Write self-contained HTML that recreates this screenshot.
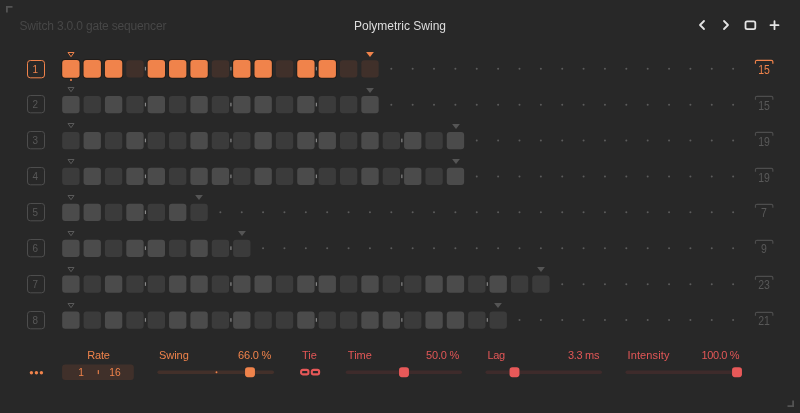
<!DOCTYPE html>
<html><head><meta charset="utf-8"><title>Switch</title>
<style>
html,body{margin:0;padding:0;}
body{width:800px;height:413px;background:#282828;overflow:hidden;position:relative;font-family:"Liberation Sans",sans-serif;}
.a{position:absolute;}
.t{position:absolute;white-space:nowrap;line-height:1;}
.nb{position:absolute;width:18px;height:18.3px;color:#5a5a5a;font-size:11.5px;text-align:center;line-height:18.3px;}
.lt{position:absolute;width:30px;text-align:center;font-size:12.2px;color:#555;line-height:1;transform:scaleX(0.86);}
svg{position:absolute;overflow:visible;}
</style></head><body>

<svg width="20" height="20" style="left:0;top:0" fill="none" stroke="#535353" stroke-width="1.8"><path d="M6.9 12.5 V6.9 H12.5"/></svg>
<svg width="20" height="20" style="left:780px;top:393px" fill="none" stroke="#535353" stroke-width="1.8"><path d="M7.5 13.1 H13.1 V7.5"/></svg>
<div class="t" id="hdr" style="left:19.4px;top:19.75px;font-size:12px;letter-spacing:-0.17px;color:#474747;">Switch 3.0.0 gate sequencer</div>
<div class="t" id="ttl" style="left:354px;top:19.75px;font-size:12px;color:#dedede;">Polymetric Swing</div>
<svg width="100" height="20" style="left:690px;top:15.25px" fill="none" stroke="#e4e4e4" stroke-width="1.8" stroke-linecap="round" stroke-linejoin="round"><path d="M14 6 L10 10 L14 14"/><path d="M34 6 L38 10 L34 14"/><rect x="55.5" y="6.4" width="9.8" height="7.7" rx="1.6"/><path d="M80.5 10.2 H88.5 M84.5 6.2 V14.2"/></svg>
<svg width="20" height="20" style="left:26px;top:58.55px" fill="none" stroke="#f0834b" stroke-width="1"><rect x="1.5" y="1.5" width="17" height="17.3" rx="2.8"/></svg>
<div class="nb" style="left:26.5px;top:59.55px;color:#f0834b"><span style="display:inline-block;transform:scaleX(0.86)">1</span></div>
<svg width="8" height="7" style="left:67.10px;top:50.50px"><path d="M1.0 1.5 H7.0 L4 5.7 Z" fill="none" stroke="#f0834b" stroke-width="1"/></svg>
<svg width="8" height="7" style="left:366.22px;top:50.75px"><path d="M0.1 1.05 H7.9 L4 5.95 Z" fill="#f0834b"/></svg>
<svg width="20" height="6" style="left:754px;top:59.25px" fill="none" stroke="#f0834b" stroke-width="1.2"><path d="M1.45 4.7 V2.8 Q1.45 1.3 2.95 1.3 H17.35 Q18.85 1.3 18.85 2.8 V4.7"/></svg>
<div class="lt" style="left:749px;top:63.85px;color:#f0834b">15</div>
<svg width="20" height="20" style="left:26px;top:94.45px" fill="none" stroke="#4d4d4d" stroke-width="1"><rect x="1.5" y="1.5" width="17" height="17.3" rx="2.8"/></svg>
<div class="nb" style="left:26.5px;top:95.45px;color:#585858"><span style="display:inline-block;transform:scaleX(0.86)">2</span></div>
<svg width="8" height="7" style="left:67.10px;top:86.40px"><path d="M1.0 1.5 H7.0 L4 5.7 Z" fill="none" stroke="#5a5a5a" stroke-width="1"/></svg>
<svg width="8" height="7" style="left:366.22px;top:86.65px"><path d="M0.1 1.05 H7.9 L4 5.95 Z" fill="#555"/></svg>
<svg width="20" height="6" style="left:754px;top:95.15px" fill="none" stroke="#4d4d4d" stroke-width="1.2"><path d="M1.45 4.7 V2.8 Q1.45 1.3 2.95 1.3 H17.35 Q18.85 1.3 18.85 2.8 V4.7"/></svg>
<div class="lt" style="left:749px;top:99.75px;color:#585858">15</div>
<svg width="20" height="20" style="left:26px;top:130.35px" fill="none" stroke="#4d4d4d" stroke-width="1"><rect x="1.5" y="1.5" width="17" height="17.3" rx="2.8"/></svg>
<div class="nb" style="left:26.5px;top:131.35px;color:#585858"><span style="display:inline-block;transform:scaleX(0.86)">3</span></div>
<svg width="8" height="7" style="left:67.10px;top:122.30px"><path d="M1.0 1.5 H7.0 L4 5.7 Z" fill="none" stroke="#5a5a5a" stroke-width="1"/></svg>
<svg width="8" height="7" style="left:451.69px;top:122.55px"><path d="M0.1 1.05 H7.9 L4 5.95 Z" fill="#555"/></svg>
<svg width="20" height="6" style="left:754px;top:131.05px" fill="none" stroke="#4d4d4d" stroke-width="1.2"><path d="M1.45 4.7 V2.8 Q1.45 1.3 2.95 1.3 H17.35 Q18.85 1.3 18.85 2.8 V4.7"/></svg>
<div class="lt" style="left:749px;top:135.65px;color:#585858">19</div>
<svg width="20" height="20" style="left:26px;top:166.25px" fill="none" stroke="#4d4d4d" stroke-width="1"><rect x="1.5" y="1.5" width="17" height="17.3" rx="2.8"/></svg>
<div class="nb" style="left:26.5px;top:167.25px;color:#585858"><span style="display:inline-block;transform:scaleX(0.86)">4</span></div>
<svg width="8" height="7" style="left:67.10px;top:158.20px"><path d="M1.0 1.5 H7.0 L4 5.7 Z" fill="none" stroke="#5a5a5a" stroke-width="1"/></svg>
<svg width="8" height="7" style="left:451.69px;top:158.45px"><path d="M0.1 1.05 H7.9 L4 5.95 Z" fill="#555"/></svg>
<svg width="20" height="6" style="left:754px;top:166.95px" fill="none" stroke="#4d4d4d" stroke-width="1.2"><path d="M1.45 4.7 V2.8 Q1.45 1.3 2.95 1.3 H17.35 Q18.85 1.3 18.85 2.8 V4.7"/></svg>
<div class="lt" style="left:749px;top:171.55px;color:#585858">19</div>
<svg width="20" height="20" style="left:26px;top:202.15px" fill="none" stroke="#4d4d4d" stroke-width="1"><rect x="1.5" y="1.5" width="17" height="17.3" rx="2.8"/></svg>
<div class="nb" style="left:26.5px;top:203.15px;color:#585858"><span style="display:inline-block;transform:scaleX(0.86)">5</span></div>
<svg width="8" height="7" style="left:67.10px;top:194.10px"><path d="M1.0 1.5 H7.0 L4 5.7 Z" fill="none" stroke="#5a5a5a" stroke-width="1"/></svg>
<svg width="8" height="7" style="left:195.30px;top:194.35px"><path d="M0.1 1.05 H7.9 L4 5.95 Z" fill="#555"/></svg>
<svg width="20" height="6" style="left:754px;top:202.85px" fill="none" stroke="#4d4d4d" stroke-width="1.2"><path d="M1.45 4.7 V2.8 Q1.45 1.3 2.95 1.3 H17.35 Q18.85 1.3 18.85 2.8 V4.7"/></svg>
<div class="lt" style="left:749px;top:207.45px;color:#585858">7</div>
<svg width="20" height="20" style="left:26px;top:238.05px" fill="none" stroke="#4d4d4d" stroke-width="1"><rect x="1.5" y="1.5" width="17" height="17.3" rx="2.8"/></svg>
<div class="nb" style="left:26.5px;top:239.05px;color:#585858"><span style="display:inline-block;transform:scaleX(0.86)">6</span></div>
<svg width="8" height="7" style="left:67.10px;top:230.00px"><path d="M1.0 1.5 H7.0 L4 5.7 Z" fill="none" stroke="#5a5a5a" stroke-width="1"/></svg>
<svg width="8" height="7" style="left:238.03px;top:230.25px"><path d="M0.1 1.05 H7.9 L4 5.95 Z" fill="#555"/></svg>
<svg width="20" height="6" style="left:754px;top:238.75px" fill="none" stroke="#4d4d4d" stroke-width="1.2"><path d="M1.45 4.7 V2.8 Q1.45 1.3 2.95 1.3 H17.35 Q18.85 1.3 18.85 2.8 V4.7"/></svg>
<div class="lt" style="left:749px;top:243.35px;color:#585858">9</div>
<svg width="20" height="20" style="left:26px;top:273.95px" fill="none" stroke="#4d4d4d" stroke-width="1"><rect x="1.5" y="1.5" width="17" height="17.3" rx="2.8"/></svg>
<div class="nb" style="left:26.5px;top:274.95px;color:#585858"><span style="display:inline-block;transform:scaleX(0.86)">7</span></div>
<svg width="8" height="7" style="left:67.10px;top:265.90px"><path d="M1.0 1.5 H7.0 L4 5.7 Z" fill="none" stroke="#5a5a5a" stroke-width="1"/></svg>
<svg width="8" height="7" style="left:537.15px;top:266.15px"><path d="M0.1 1.05 H7.9 L4 5.95 Z" fill="#555"/></svg>
<svg width="20" height="6" style="left:754px;top:274.65px" fill="none" stroke="#4d4d4d" stroke-width="1.2"><path d="M1.45 4.7 V2.8 Q1.45 1.3 2.95 1.3 H17.35 Q18.85 1.3 18.85 2.8 V4.7"/></svg>
<div class="lt" style="left:749px;top:279.25px;color:#585858">23</div>
<svg width="20" height="20" style="left:26px;top:309.85px" fill="none" stroke="#4d4d4d" stroke-width="1"><rect x="1.5" y="1.5" width="17" height="17.3" rx="2.8"/></svg>
<div class="nb" style="left:26.5px;top:310.85px;color:#585858"><span style="display:inline-block;transform:scaleX(0.86)">8</span></div>
<svg width="8" height="7" style="left:67.10px;top:301.80px"><path d="M1.0 1.5 H7.0 L4 5.7 Z" fill="none" stroke="#5a5a5a" stroke-width="1"/></svg>
<svg width="8" height="7" style="left:494.42px;top:302.05px"><path d="M0.1 1.05 H7.9 L4 5.95 Z" fill="#555"/></svg>
<svg width="20" height="6" style="left:754px;top:310.55px" fill="none" stroke="#4d4d4d" stroke-width="1.2"><path d="M1.45 4.7 V2.8 Q1.45 1.3 2.95 1.3 H17.35 Q18.85 1.3 18.85 2.8 V4.7"/></svg>
<div class="lt" style="left:749px;top:315.15px;color:#585858">21</div>
<svg width="800" height="413" style="left:0;top:0">
<g><rect x="62.20" y="60.00" width="17.35" height="17.8" rx="3" fill="#f0834b" stroke="rgba(24,10,2,0.38)" stroke-width="2" paint-order="stroke"/>
<rect x="83.57" y="60.00" width="17.35" height="17.8" rx="3" fill="#f0834b" stroke="rgba(24,10,2,0.38)" stroke-width="2" paint-order="stroke"/>
<rect x="104.93" y="60.00" width="17.35" height="17.8" rx="3" fill="#f0834b" stroke="rgba(24,10,2,0.38)" stroke-width="2" paint-order="stroke"/>
<rect x="126.30" y="60.15" width="17.35" height="17.25" rx="3" fill="#40302a"/>
<rect x="147.66" y="60.00" width="17.35" height="17.8" rx="3" fill="#f0834b" stroke="rgba(24,10,2,0.38)" stroke-width="2" paint-order="stroke"/>
<rect x="169.03" y="60.00" width="17.35" height="17.8" rx="3" fill="#f0834b" stroke="rgba(24,10,2,0.38)" stroke-width="2" paint-order="stroke"/>
<rect x="190.40" y="60.00" width="17.35" height="17.8" rx="3" fill="#f0834b" stroke="rgba(24,10,2,0.38)" stroke-width="2" paint-order="stroke"/>
<rect x="211.76" y="60.15" width="17.35" height="17.25" rx="3" fill="#40302a"/>
<rect x="233.13" y="60.00" width="17.35" height="17.8" rx="3" fill="#f0834b" stroke="rgba(24,10,2,0.38)" stroke-width="2" paint-order="stroke"/>
<rect x="254.49" y="60.00" width="17.35" height="17.8" rx="3" fill="#f0834b" stroke="rgba(24,10,2,0.38)" stroke-width="2" paint-order="stroke"/>
<rect x="275.86" y="60.15" width="17.35" height="17.25" rx="3" fill="#40302a"/>
<rect x="297.23" y="60.00" width="17.35" height="17.8" rx="3" fill="#f0834b" stroke="rgba(24,10,2,0.38)" stroke-width="2" paint-order="stroke"/>
<rect x="318.59" y="60.00" width="17.35" height="17.8" rx="3" fill="#f0834b" stroke="rgba(24,10,2,0.38)" stroke-width="2" paint-order="stroke"/>
<rect x="339.96" y="60.15" width="17.35" height="17.25" rx="3" fill="#40302a"/>
<rect x="361.32" y="60.15" width="17.35" height="17.25" rx="3" fill="#40302a"/>
<rect x="62.20" y="96.05" width="17.35" height="17.25" rx="3" fill="#4b4b4b"/>
<rect x="83.57" y="96.05" width="17.35" height="17.25" rx="3" fill="#3b3b3b"/>
<rect x="104.93" y="96.05" width="17.35" height="17.25" rx="3" fill="#4b4b4b"/>
<rect x="126.30" y="96.05" width="17.35" height="17.25" rx="3" fill="#3b3b3b"/>
<rect x="147.66" y="96.05" width="17.35" height="17.25" rx="3" fill="#4b4b4b"/>
<rect x="169.03" y="96.05" width="17.35" height="17.25" rx="3" fill="#3b3b3b"/>
<rect x="190.40" y="96.05" width="17.35" height="17.25" rx="3" fill="#4b4b4b"/>
<rect x="211.76" y="96.05" width="17.35" height="17.25" rx="3" fill="#3b3b3b"/>
<rect x="233.13" y="96.05" width="17.35" height="17.25" rx="3" fill="#4b4b4b"/>
<rect x="254.49" y="96.05" width="17.35" height="17.25" rx="3" fill="#4b4b4b"/>
<rect x="275.86" y="96.05" width="17.35" height="17.25" rx="3" fill="#3b3b3b"/>
<rect x="297.23" y="96.05" width="17.35" height="17.25" rx="3" fill="#4b4b4b"/>
<rect x="318.59" y="96.05" width="17.35" height="17.25" rx="3" fill="#3b3b3b"/>
<rect x="339.96" y="96.05" width="17.35" height="17.25" rx="3" fill="#3b3b3b"/>
<rect x="361.32" y="96.05" width="17.35" height="17.25" rx="3" fill="#4b4b4b"/>
<rect x="62.20" y="131.95" width="17.35" height="17.25" rx="3" fill="#3b3b3b"/>
<rect x="83.57" y="131.95" width="17.35" height="17.25" rx="3" fill="#4b4b4b"/>
<rect x="104.93" y="131.95" width="17.35" height="17.25" rx="3" fill="#3b3b3b"/>
<rect x="126.30" y="131.95" width="17.35" height="17.25" rx="3" fill="#4b4b4b"/>
<rect x="147.66" y="131.95" width="17.35" height="17.25" rx="3" fill="#3b3b3b"/>
<rect x="169.03" y="131.95" width="17.35" height="17.25" rx="3" fill="#3b3b3b"/>
<rect x="190.40" y="131.95" width="17.35" height="17.25" rx="3" fill="#4b4b4b"/>
<rect x="211.76" y="131.95" width="17.35" height="17.25" rx="3" fill="#3b3b3b"/>
<rect x="233.13" y="131.95" width="17.35" height="17.25" rx="3" fill="#3b3b3b"/>
<rect x="254.49" y="131.95" width="17.35" height="17.25" rx="3" fill="#4b4b4b"/>
<rect x="275.86" y="131.95" width="17.35" height="17.25" rx="3" fill="#3b3b3b"/>
<rect x="297.23" y="131.95" width="17.35" height="17.25" rx="3" fill="#4b4b4b"/>
<rect x="318.59" y="131.95" width="17.35" height="17.25" rx="3" fill="#4b4b4b"/>
<rect x="339.96" y="131.95" width="17.35" height="17.25" rx="3" fill="#3b3b3b"/>
<rect x="361.32" y="131.95" width="17.35" height="17.25" rx="3" fill="#4b4b4b"/>
<rect x="382.69" y="131.95" width="17.35" height="17.25" rx="3" fill="#3b3b3b"/>
<rect x="404.06" y="131.95" width="17.35" height="17.25" rx="3" fill="#4b4b4b"/>
<rect x="425.42" y="131.95" width="17.35" height="17.25" rx="3" fill="#3b3b3b"/>
<rect x="446.79" y="131.95" width="17.35" height="17.25" rx="3" fill="#4b4b4b"/>
<rect x="62.20" y="167.85" width="17.35" height="17.25" rx="3" fill="#3b3b3b"/>
<rect x="83.57" y="167.85" width="17.35" height="17.25" rx="3" fill="#4b4b4b"/>
<rect x="104.93" y="167.85" width="17.35" height="17.25" rx="3" fill="#3b3b3b"/>
<rect x="126.30" y="167.85" width="17.35" height="17.25" rx="3" fill="#4b4b4b"/>
<rect x="147.66" y="167.85" width="17.35" height="17.25" rx="3" fill="#4b4b4b"/>
<rect x="169.03" y="167.85" width="17.35" height="17.25" rx="3" fill="#3b3b3b"/>
<rect x="190.40" y="167.85" width="17.35" height="17.25" rx="3" fill="#4b4b4b"/>
<rect x="211.76" y="167.85" width="17.35" height="17.25" rx="3" fill="#4b4b4b"/>
<rect x="233.13" y="167.85" width="17.35" height="17.25" rx="3" fill="#3b3b3b"/>
<rect x="254.49" y="167.85" width="17.35" height="17.25" rx="3" fill="#4b4b4b"/>
<rect x="275.86" y="167.85" width="17.35" height="17.25" rx="3" fill="#3b3b3b"/>
<rect x="297.23" y="167.85" width="17.35" height="17.25" rx="3" fill="#4b4b4b"/>
<rect x="318.59" y="167.85" width="17.35" height="17.25" rx="3" fill="#3b3b3b"/>
<rect x="339.96" y="167.85" width="17.35" height="17.25" rx="3" fill="#3b3b3b"/>
<rect x="361.32" y="167.85" width="17.35" height="17.25" rx="3" fill="#4b4b4b"/>
<rect x="382.69" y="167.85" width="17.35" height="17.25" rx="3" fill="#3b3b3b"/>
<rect x="404.06" y="167.85" width="17.35" height="17.25" rx="3" fill="#4b4b4b"/>
<rect x="425.42" y="167.85" width="17.35" height="17.25" rx="3" fill="#3b3b3b"/>
<rect x="446.79" y="167.85" width="17.35" height="17.25" rx="3" fill="#4b4b4b"/>
<rect x="62.20" y="203.75" width="17.35" height="17.25" rx="3" fill="#4b4b4b"/>
<rect x="83.57" y="203.75" width="17.35" height="17.25" rx="3" fill="#4b4b4b"/>
<rect x="104.93" y="203.75" width="17.35" height="17.25" rx="3" fill="#3b3b3b"/>
<rect x="126.30" y="203.75" width="17.35" height="17.25" rx="3" fill="#4b4b4b"/>
<rect x="147.66" y="203.75" width="17.35" height="17.25" rx="3" fill="#3b3b3b"/>
<rect x="169.03" y="203.75" width="17.35" height="17.25" rx="3" fill="#4b4b4b"/>
<rect x="190.40" y="203.75" width="17.35" height="17.25" rx="3" fill="#3b3b3b"/>
<rect x="62.20" y="239.65" width="17.35" height="17.25" rx="3" fill="#4b4b4b"/>
<rect x="83.57" y="239.65" width="17.35" height="17.25" rx="3" fill="#4b4b4b"/>
<rect x="104.93" y="239.65" width="17.35" height="17.25" rx="3" fill="#3b3b3b"/>
<rect x="126.30" y="239.65" width="17.35" height="17.25" rx="3" fill="#4b4b4b"/>
<rect x="147.66" y="239.65" width="17.35" height="17.25" rx="3" fill="#4b4b4b"/>
<rect x="169.03" y="239.65" width="17.35" height="17.25" rx="3" fill="#3b3b3b"/>
<rect x="190.40" y="239.65" width="17.35" height="17.25" rx="3" fill="#4b4b4b"/>
<rect x="211.76" y="239.65" width="17.35" height="17.25" rx="3" fill="#3b3b3b"/>
<rect x="233.13" y="239.65" width="17.35" height="17.25" rx="3" fill="#3b3b3b"/>
<rect x="62.20" y="275.55" width="17.35" height="17.25" rx="3" fill="#4b4b4b"/>
<rect x="83.57" y="275.55" width="17.35" height="17.25" rx="3" fill="#3b3b3b"/>
<rect x="104.93" y="275.55" width="17.35" height="17.25" rx="3" fill="#4b4b4b"/>
<rect x="126.30" y="275.55" width="17.35" height="17.25" rx="3" fill="#3b3b3b"/>
<rect x="147.66" y="275.55" width="17.35" height="17.25" rx="3" fill="#3b3b3b"/>
<rect x="169.03" y="275.55" width="17.35" height="17.25" rx="3" fill="#4b4b4b"/>
<rect x="190.40" y="275.55" width="17.35" height="17.25" rx="3" fill="#4b4b4b"/>
<rect x="211.76" y="275.55" width="17.35" height="17.25" rx="3" fill="#3b3b3b"/>
<rect x="233.13" y="275.55" width="17.35" height="17.25" rx="3" fill="#4b4b4b"/>
<rect x="254.49" y="275.55" width="17.35" height="17.25" rx="3" fill="#4b4b4b"/>
<rect x="275.86" y="275.55" width="17.35" height="17.25" rx="3" fill="#3b3b3b"/>
<rect x="297.23" y="275.55" width="17.35" height="17.25" rx="3" fill="#4b4b4b"/>
<rect x="318.59" y="275.55" width="17.35" height="17.25" rx="3" fill="#4b4b4b"/>
<rect x="339.96" y="275.55" width="17.35" height="17.25" rx="3" fill="#3b3b3b"/>
<rect x="361.32" y="275.55" width="17.35" height="17.25" rx="3" fill="#4b4b4b"/>
<rect x="382.69" y="275.55" width="17.35" height="17.25" rx="3" fill="#3b3b3b"/>
<rect x="404.06" y="275.55" width="17.35" height="17.25" rx="3" fill="#3b3b3b"/>
<rect x="425.42" y="275.55" width="17.35" height="17.25" rx="3" fill="#4b4b4b"/>
<rect x="446.79" y="275.55" width="17.35" height="17.25" rx="3" fill="#4b4b4b"/>
<rect x="468.15" y="275.55" width="17.35" height="17.25" rx="3" fill="#3b3b3b"/>
<rect x="489.52" y="275.55" width="17.35" height="17.25" rx="3" fill="#4b4b4b"/>
<rect x="510.89" y="275.55" width="17.35" height="17.25" rx="3" fill="#3b3b3b"/>
<rect x="532.25" y="275.55" width="17.35" height="17.25" rx="3" fill="#3b3b3b"/>
<rect x="62.20" y="311.45" width="17.35" height="17.25" rx="3" fill="#4b4b4b"/>
<rect x="83.57" y="311.45" width="17.35" height="17.25" rx="3" fill="#3b3b3b"/>
<rect x="104.93" y="311.45" width="17.35" height="17.25" rx="3" fill="#4b4b4b"/>
<rect x="126.30" y="311.45" width="17.35" height="17.25" rx="3" fill="#3b3b3b"/>
<rect x="147.66" y="311.45" width="17.35" height="17.25" rx="3" fill="#3b3b3b"/>
<rect x="169.03" y="311.45" width="17.35" height="17.25" rx="3" fill="#4b4b4b"/>
<rect x="190.40" y="311.45" width="17.35" height="17.25" rx="3" fill="#4b4b4b"/>
<rect x="211.76" y="311.45" width="17.35" height="17.25" rx="3" fill="#3b3b3b"/>
<rect x="233.13" y="311.45" width="17.35" height="17.25" rx="3" fill="#4b4b4b"/>
<rect x="254.49" y="311.45" width="17.35" height="17.25" rx="3" fill="#3b3b3b"/>
<rect x="275.86" y="311.45" width="17.35" height="17.25" rx="3" fill="#3b3b3b"/>
<rect x="297.23" y="311.45" width="17.35" height="17.25" rx="3" fill="#4b4b4b"/>
<rect x="318.59" y="311.45" width="17.35" height="17.25" rx="3" fill="#3b3b3b"/>
<rect x="339.96" y="311.45" width="17.35" height="17.25" rx="3" fill="#3b3b3b"/>
<rect x="361.32" y="311.45" width="17.35" height="17.25" rx="3" fill="#4b4b4b"/>
<rect x="382.69" y="311.45" width="17.35" height="17.25" rx="3" fill="#4b4b4b"/>
<rect x="404.06" y="311.45" width="17.35" height="17.25" rx="3" fill="#3b3b3b"/>
<rect x="425.42" y="311.45" width="17.35" height="17.25" rx="3" fill="#4b4b4b"/>
<rect x="446.79" y="311.45" width="17.35" height="17.25" rx="3" fill="#4b4b4b"/>
<rect x="468.15" y="311.45" width="17.35" height="17.25" rx="3" fill="#3b3b3b"/>
<rect x="489.52" y="311.45" width="17.35" height="17.25" rx="3" fill="#3b3b3b"/></g>
<g fill="#5c5c5c"><circle cx="391.29" cy="68.75" r="1.0"/><circle cx="412.66" cy="68.75" r="1.0"/><circle cx="434.02" cy="68.75" r="1.0"/><circle cx="455.39" cy="68.75" r="1.0"/><circle cx="476.75" cy="68.75" r="1.0"/><circle cx="498.12" cy="68.75" r="1.0"/><circle cx="519.49" cy="68.75" r="1.0"/><circle cx="540.85" cy="68.75" r="1.0"/><circle cx="562.22" cy="68.75" r="1.0"/><circle cx="583.58" cy="68.75" r="1.0"/><circle cx="604.95" cy="68.75" r="1.0"/><circle cx="626.32" cy="68.75" r="1.0"/><circle cx="647.68" cy="68.75" r="1.0"/><circle cx="669.05" cy="68.75" r="1.0"/><circle cx="690.41" cy="68.75" r="1.0"/><circle cx="711.78" cy="68.75" r="1.0"/><circle cx="733.15" cy="68.75" r="1.0"/><circle cx="391.29" cy="104.65" r="1.0"/><circle cx="412.66" cy="104.65" r="1.0"/><circle cx="434.02" cy="104.65" r="1.0"/><circle cx="455.39" cy="104.65" r="1.0"/><circle cx="476.75" cy="104.65" r="1.0"/><circle cx="498.12" cy="104.65" r="1.0"/><circle cx="519.49" cy="104.65" r="1.0"/><circle cx="540.85" cy="104.65" r="1.0"/><circle cx="562.22" cy="104.65" r="1.0"/><circle cx="583.58" cy="104.65" r="1.0"/><circle cx="604.95" cy="104.65" r="1.0"/><circle cx="626.32" cy="104.65" r="1.0"/><circle cx="647.68" cy="104.65" r="1.0"/><circle cx="669.05" cy="104.65" r="1.0"/><circle cx="690.41" cy="104.65" r="1.0"/><circle cx="711.78" cy="104.65" r="1.0"/><circle cx="733.15" cy="104.65" r="1.0"/><circle cx="476.75" cy="140.55" r="1.0"/><circle cx="498.12" cy="140.55" r="1.0"/><circle cx="519.49" cy="140.55" r="1.0"/><circle cx="540.85" cy="140.55" r="1.0"/><circle cx="562.22" cy="140.55" r="1.0"/><circle cx="583.58" cy="140.55" r="1.0"/><circle cx="604.95" cy="140.55" r="1.0"/><circle cx="626.32" cy="140.55" r="1.0"/><circle cx="647.68" cy="140.55" r="1.0"/><circle cx="669.05" cy="140.55" r="1.0"/><circle cx="690.41" cy="140.55" r="1.0"/><circle cx="711.78" cy="140.55" r="1.0"/><circle cx="733.15" cy="140.55" r="1.0"/><circle cx="476.75" cy="176.45" r="1.0"/><circle cx="498.12" cy="176.45" r="1.0"/><circle cx="519.49" cy="176.45" r="1.0"/><circle cx="540.85" cy="176.45" r="1.0"/><circle cx="562.22" cy="176.45" r="1.0"/><circle cx="583.58" cy="176.45" r="1.0"/><circle cx="604.95" cy="176.45" r="1.0"/><circle cx="626.32" cy="176.45" r="1.0"/><circle cx="647.68" cy="176.45" r="1.0"/><circle cx="669.05" cy="176.45" r="1.0"/><circle cx="690.41" cy="176.45" r="1.0"/><circle cx="711.78" cy="176.45" r="1.0"/><circle cx="733.15" cy="176.45" r="1.0"/><circle cx="220.36" cy="212.35" r="1.0"/><circle cx="241.73" cy="212.35" r="1.0"/><circle cx="263.09" cy="212.35" r="1.0"/><circle cx="284.46" cy="212.35" r="1.0"/><circle cx="305.83" cy="212.35" r="1.0"/><circle cx="327.19" cy="212.35" r="1.0"/><circle cx="348.56" cy="212.35" r="1.0"/><circle cx="369.92" cy="212.35" r="1.0"/><circle cx="391.29" cy="212.35" r="1.0"/><circle cx="412.66" cy="212.35" r="1.0"/><circle cx="434.02" cy="212.35" r="1.0"/><circle cx="455.39" cy="212.35" r="1.0"/><circle cx="476.75" cy="212.35" r="1.0"/><circle cx="498.12" cy="212.35" r="1.0"/><circle cx="519.49" cy="212.35" r="1.0"/><circle cx="540.85" cy="212.35" r="1.0"/><circle cx="562.22" cy="212.35" r="1.0"/><circle cx="583.58" cy="212.35" r="1.0"/><circle cx="604.95" cy="212.35" r="1.0"/><circle cx="626.32" cy="212.35" r="1.0"/><circle cx="647.68" cy="212.35" r="1.0"/><circle cx="669.05" cy="212.35" r="1.0"/><circle cx="690.41" cy="212.35" r="1.0"/><circle cx="711.78" cy="212.35" r="1.0"/><circle cx="733.15" cy="212.35" r="1.0"/><circle cx="263.09" cy="248.25" r="1.0"/><circle cx="284.46" cy="248.25" r="1.0"/><circle cx="305.83" cy="248.25" r="1.0"/><circle cx="327.19" cy="248.25" r="1.0"/><circle cx="348.56" cy="248.25" r="1.0"/><circle cx="369.92" cy="248.25" r="1.0"/><circle cx="391.29" cy="248.25" r="1.0"/><circle cx="412.66" cy="248.25" r="1.0"/><circle cx="434.02" cy="248.25" r="1.0"/><circle cx="455.39" cy="248.25" r="1.0"/><circle cx="476.75" cy="248.25" r="1.0"/><circle cx="498.12" cy="248.25" r="1.0"/><circle cx="519.49" cy="248.25" r="1.0"/><circle cx="540.85" cy="248.25" r="1.0"/><circle cx="562.22" cy="248.25" r="1.0"/><circle cx="583.58" cy="248.25" r="1.0"/><circle cx="604.95" cy="248.25" r="1.0"/><circle cx="626.32" cy="248.25" r="1.0"/><circle cx="647.68" cy="248.25" r="1.0"/><circle cx="669.05" cy="248.25" r="1.0"/><circle cx="690.41" cy="248.25" r="1.0"/><circle cx="711.78" cy="248.25" r="1.0"/><circle cx="733.15" cy="248.25" r="1.0"/><circle cx="562.22" cy="284.15" r="1.0"/><circle cx="583.58" cy="284.15" r="1.0"/><circle cx="604.95" cy="284.15" r="1.0"/><circle cx="626.32" cy="284.15" r="1.0"/><circle cx="647.68" cy="284.15" r="1.0"/><circle cx="669.05" cy="284.15" r="1.0"/><circle cx="690.41" cy="284.15" r="1.0"/><circle cx="711.78" cy="284.15" r="1.0"/><circle cx="733.15" cy="284.15" r="1.0"/><circle cx="519.49" cy="320.05" r="1.0"/><circle cx="540.85" cy="320.05" r="1.0"/><circle cx="562.22" cy="320.05" r="1.0"/><circle cx="583.58" cy="320.05" r="1.0"/><circle cx="604.95" cy="320.05" r="1.0"/><circle cx="626.32" cy="320.05" r="1.0"/><circle cx="647.68" cy="320.05" r="1.0"/><circle cx="669.05" cy="320.05" r="1.0"/><circle cx="690.41" cy="320.05" r="1.0"/><circle cx="711.78" cy="320.05" r="1.0"/><circle cx="733.15" cy="320.05" r="1.0"/></g>
<g fill="#8a8a8a"><rect x="144.88" y="66.85" width="1.15" height="3.6"/><rect x="230.35" y="66.85" width="1.15" height="3.6"/><rect x="315.81" y="66.85" width="1.15" height="3.6"/><rect x="144.88" y="102.75" width="1.15" height="3.6"/><rect x="230.35" y="102.75" width="1.15" height="3.6"/><rect x="315.81" y="102.75" width="1.15" height="3.6"/><rect x="144.88" y="138.65" width="1.15" height="3.6"/><rect x="230.35" y="138.65" width="1.15" height="3.6"/><rect x="315.81" y="138.65" width="1.15" height="3.6"/><rect x="401.28" y="138.65" width="1.15" height="3.6"/><rect x="144.88" y="174.55" width="1.15" height="3.6"/><rect x="230.35" y="174.55" width="1.15" height="3.6"/><rect x="315.81" y="174.55" width="1.15" height="3.6"/><rect x="401.28" y="174.55" width="1.15" height="3.6"/><rect x="144.88" y="210.45" width="1.15" height="3.6"/><rect x="144.88" y="246.35" width="1.15" height="3.6"/><rect x="230.35" y="246.35" width="1.15" height="3.6"/><rect x="144.88" y="282.25" width="1.15" height="3.6"/><rect x="230.35" y="282.25" width="1.15" height="3.6"/><rect x="315.81" y="282.25" width="1.15" height="3.6"/><rect x="401.28" y="282.25" width="1.15" height="3.6"/><rect x="486.74" y="282.25" width="1.15" height="3.6"/><rect x="144.88" y="318.15" width="1.15" height="3.6"/><rect x="230.35" y="318.15" width="1.15" height="3.6"/><rect x="315.81" y="318.15" width="1.15" height="3.6"/><rect x="401.28" y="318.15" width="1.15" height="3.6"/><rect x="486.74" y="318.15" width="1.15" height="3.6"/></g></svg>
<div class="a" style="left:70.10px;top:79.25px;width:1.9px;height:1.9px;border-radius:1px;background:#f0834b"></div>
<div class="t" id="rate" style="left:87.3px;top:350px;font-size:11px;color:#f0834b"><span style="letter-spacing:-0.2px">Rate</span></div>
<div class="t" id="sw" style="left:158.9px;top:350px;font-size:11px;color:#f0834b"><span style="letter-spacing:0px">Swing</span></div>
<div class="t" id="swv" style="right:528.9px;top:350px;font-size:11px;color:#f0834b"><span style="letter-spacing:-0.2px">66.0 %</span></div>
<div class="t" id="tie" style="left:302px;top:350px;font-size:11px;color:#e35757">Tie</div>
<svg width="22" height="8" style="left:299px;top:368px" fill="none" stroke="#e65858" stroke-width="2.1"><rect x="2.1" y="1.85" width="7.3" height="4.5" rx="1.7"/><rect x="12.8" y="1.85" width="7.3" height="4.5" rx="1.7"/></svg>
<div class="t" id="tm" style="left:347.85px;top:350px;font-size:11px;color:#e35757"><span style="letter-spacing:0px">Time</span></div>
<div class="t" id="tmv" style="right:340.9px;top:350px;font-size:11px;color:#e35757"><span style="letter-spacing:-0.2px">50.0 %</span></div>
<div class="t" id="lg" style="left:487.5px;top:350px;font-size:11px;color:#e35757"><span style="letter-spacing:-0.4px">Lag</span></div>
<div class="t" id="lgv" style="right:200.89999999999998px;top:350px;font-size:11px;color:#e35757"><span style="letter-spacing:-0.3px">3.3 ms</span></div>
<div class="t" id="in" style="left:627.5px;top:350px;font-size:11px;color:#e35757"><span style="letter-spacing:0.12px">Intensity</span></div>
<div class="t" id="inv" style="right:60.89999999999998px;top:350px;font-size:11px;color:#e35757"><span style="letter-spacing:-0.4px">100.0 %</span></div>
<svg width="800" height="60" viewBox="0 340 800 60" style="left:0;top:340px"><circle cx="31.4" cy="372.8" r="1.7" fill="#f0834b"/>
<circle cx="36.4" cy="372.8" r="1.7" fill="#f0834b"/>
<circle cx="41.4" cy="372.8" r="1.7" fill="#f0834b"/>
<rect x="62.1" y="364.4" width="71.7" height="15.6" rx="3" fill="#40302a"/>
<rect x="97.75" y="370.1" width="1.1" height="4" fill="#f0834b"/>
<rect x="157.4" y="370.4" width="116.6" height="3.5" rx="1.75" fill="#43302a"/>
<circle cx="216.5" cy="372.2" r="0.95" fill="#f0834b"/>
<rect x="245.05" y="367.25" width="9.9" height="9.9" rx="2.8" fill="#f0834b"/>
<rect x="345.75" y="370.4" width="116.25" height="3.5" rx="1.75" fill="#3e2b2b"/>
<rect x="399.05" y="367.25" width="9.9" height="9.9" rx="2.8" fill="#e85959"/>
<rect x="485.5" y="370.4" width="116.5" height="3.5" rx="1.75" fill="#3e2b2b"/>
<rect x="509.55" y="367.25" width="9.9" height="9.9" rx="2.8" fill="#e85959"/>
<rect x="625.5" y="370.4" width="116.5" height="3.5" rx="1.75" fill="#3e2b2b"/>
<rect x="732.05" y="367.25" width="9.9" height="9.9" rx="2.8" fill="#e85959"/></svg>
<div class="lt" style="left:65.9px;top:367px;font-size:11px;transform:scaleX(0.93);color:#f0834b">1</div>
<div class="lt" style="left:100.2px;top:367px;font-size:11px;transform:scaleX(0.93);color:#f0834b">16</div>
</body></html>
